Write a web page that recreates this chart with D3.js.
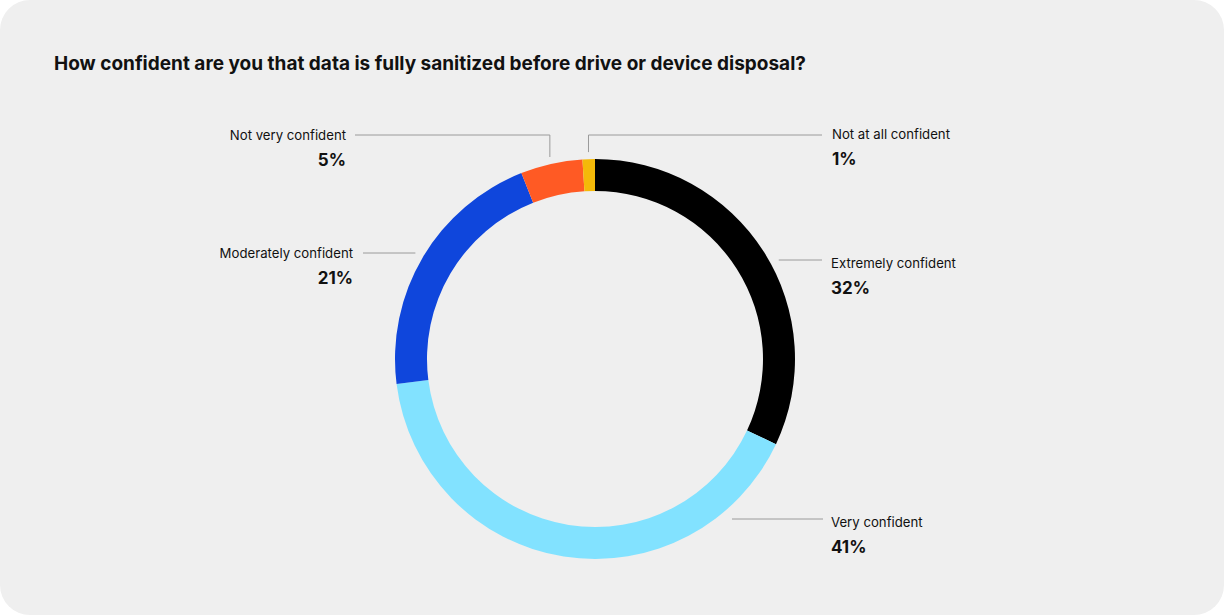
<!DOCTYPE html>
<html>
<head>
<meta charset="utf-8">
<script src="https://cdn.jsdelivr.net/npm/d3@7"></script>
<style>
  html, body { margin: 0; padding: 0; background: #fff; }
  svg { display: block; font-family: Inter, "Noto Sans", sans-serif; }
</style>
</head>
<body>
<div id="chart"></div>
<script>
// data
const categories = ['Extremely confident', 'Very confident', 'Moderately confident', 'Not very confident', 'Not at all confident'];
const values = [32, 41, 21, 5, 1];
const colors = ['#000000', '#82e2ff', '#0f46dc', '#ff5a24', '#f4b909'];

const width = 1224, height = 615;
const cx = 595, cy = 359;
const outerR = 200, innerR = 168;

const svg = d3.select('#chart')
    .append('svg')
    .attr('width', width)
    .attr('height', height);

// card background
svg.append('rect')
    .attr('x', 0).attr('y', 0)
    .attr('width', width).attr('height', height)
    .attr('rx', 30).attr('ry', 30)
    .attr('fill', '#efefef');

svg.append('text')
    .attr('x', 54).attr('y', 70)
    .style('font-size', '19px')
    .style('font-weight', 700)
    .style('fill', '#111')
    .text('How confident are you that data is fully sanitized before drive or device disposal?');

const data = categories.map((c, i) => ({ label: c, value: values[i], color: colors[i] }));

const pie = d3.pie().value(d => d.value).sort(null);
const arc = d3.arc().innerRadius(innerR).outerRadius(outerR);
const arcs = pie(data);

const g = svg.append('g').attr('transform', `translate(${cx}, ${cy})`);

g.selectAll('path')
    .data(arcs)
    .enter()
    .append('path')
    .attr('d', arc)
    .attr('fill', d => d.data.color);

// label layout: side labels use a horizontal leader at y,
// top labels drop a vertical leader from the slice middle
const layout = {
    'Extremely confident':  { type: 'side', side: 1,  y: 260, lineEnd: 822, textX: 831, ty: 268, py: 294 },
    'Very confident':       { type: 'side', side: 1,  y: 519, lineEnd: 823, textX: 831, ty: 527, py: 553, gap: 17 },
    'Moderately confident': { type: 'side', side: -1, y: 253, lineEnd: 363, textX: 353, ty: 258, py: 284 },
    'Not very confident':   { type: 'top',  side: -1, y: 135, lineEnd: 355, textX: 346, ty: 140, py: 166 },
    'Not at all confident': { type: 'top',  side: 1,  y: 135, lineEnd: 822, textX: 832, ty: 139, py: 165 }
};

const lines = svg.append('g');
const labels = svg.append('g');

arcs.forEach(d => {
    const L = layout[d.data.label];
    let pts;
    if (L.type === 'side') {
        const dy = L.y - cy;
        const gap = L.gap || 10;
        const x0 = cx + L.side * (Math.sqrt(outerR * outerR - dy * dy) + gap);
        pts = [[x0, L.y], [L.lineEnd, L.y]];
    } else {
        const mid = (d.startAngle + d.endAngle) / 2;
        const r = outerR + 7;
        const x0 = cx + r * Math.sin(mid);
        const y0 = cy - r * Math.cos(mid);
        pts = [[x0, y0], [x0, L.y], [L.lineEnd, L.y]];
    }
    lines.append('path')
        .attr('d', d3.line()(pts))
        .attr('fill', 'none')
        .attr('stroke', '#9a9a9a')
        .attr('stroke-width', 1);

    const anchor = L.side > 0 ? 'start' : 'end';
    labels.append('text')
        .attr('x', L.textX).attr('y', L.ty)
        .attr('text-anchor', anchor)
        .style('font-size', '13.2px')
        .style('fill', '#111')
        .text(d.data.label);
    labels.append('text')
        .attr('x', L.textX).attr('y', L.py)
        .attr('text-anchor', anchor)
        .style('font-size', '17px')
        .style('font-weight', 700)
        .style('fill', '#111')
        .text(d.data.value + '%');
});
</script>
</body>
</html>
